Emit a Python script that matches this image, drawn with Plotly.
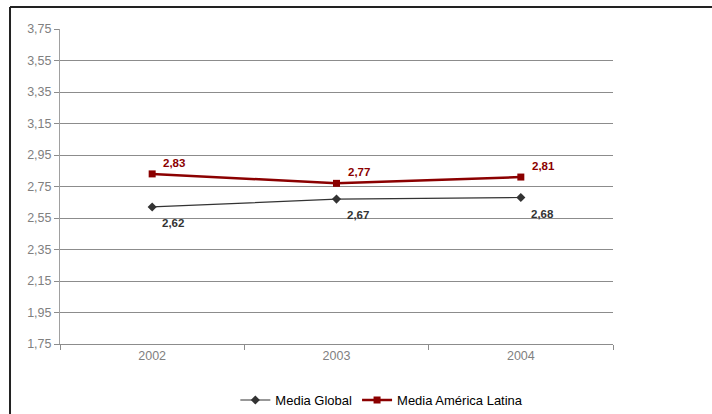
import plotly.graph_objects as go

# Data
years = ["2002", "2003", "2004"]
media_global = [2.62, 2.67, 2.68]
media_latam = [2.83, 2.77, 2.81]
series_names = ["Media Global", "Media América Latina"]
y_ticks = [1.75, 1.95, 2.15, 2.35, 2.55, 2.75, 2.95, 3.15, 3.35, 3.55, 3.75]

FONT = "Liberation Sans, Arial, sans-serif"
RED = "#8B0000"
DARK = "#333333"
GRID = "#8c8c8c"

pos = list(range(len(years)))
boundaries = [p - 0.5 for p in pos] + [pos[-1] + 0.5]

fig = go.Figure()
fig.add_trace(go.Scatter(
    x=pos, y=media_global, name=series_names[0], mode="lines+markers",
    line=dict(color=DARK, width=1.2),
    marker=dict(symbol="diamond", size=7, color=DARK),
))
fig.add_trace(go.Scatter(
    x=pos, y=media_latam, name=series_names[1], mode="lines+markers",
    line=dict(color=RED, width=2.5),
    marker=dict(symbol="square", size=7, color=RED),
))
# invisible trace carrying the category-boundary tick marks
fig.add_trace(go.Scatter(x=boundaries, y=[None] * len(boundaries), xaxis="x2",
                         showlegend=False, hoverinfo="skip", mode="markers"))

# Value labels: red above-right, dark below-right
for p, v in zip(pos, media_latam):
    fig.add_annotation(x=p, y=v, text=f"{v:.2f}".replace(".", ","),
                       showarrow=False, xanchor="left", yanchor="middle",
                       xshift=9, yshift=11,
                       font=dict(family=FONT, size=11.5, color=RED, weight="bold"))
for p, v in zip(pos, media_global):
    fig.add_annotation(x=p, y=v, text=f"{v:.2f}".replace(".", ","),
                       showarrow=False, xanchor="left", yanchor="middle",
                       xshift=8, yshift=-16,
                       font=dict(family=FONT, size=11.5, color=DARK, weight="bold"))

# Outer frame (left and top edges)
fig.add_shape(type="line", xref="paper", yref="paper",
              x0=-0.0904, x1=-0.0904, y0=1.0698, y1=-0.25,
              line=dict(color="#222222", width=2))
fig.add_shape(type="line", xref="paper", yref="paper",
              x0=-0.0904, x1=1.2, y0=1.0698, y1=1.0698,
              line=dict(color="#222222", width=2))

fig.update_layout(
    width=712, height=414,
    margin=dict(l=60, r=99, t=29, b=70, autoexpand=False),
    paper_bgcolor="white", plot_bgcolor="white",
    separators=",.",
    font=dict(family=FONT, size=12, color="#808080"),
    showlegend=True,
    legend=dict(orientation="h", x=0.582, y=-0.178, xanchor="center", yanchor="middle",
                font=dict(family=FONT, size=13, color="#000000"),
                itemwidth=30, tracegroupgap=0),
    xaxis=dict(
        range=[-0.5, len(years) - 0.5], tickvals=pos, ticktext=years,
        showgrid=False, showline=True, linecolor=GRID, linewidth=1,
        ticks="", zeroline=False,
        tickfont=dict(family=FONT, size=12.5, color="#808080"),
        fixedrange=True,
    ),
    xaxis2=dict(
        overlaying="x", matches="x", range=[-0.5, len(years) - 0.5],
        tickvals=boundaries, showticklabels=False, showgrid=False,
        ticks="outside", ticklen=5, tickcolor=GRID, side="bottom",
        zeroline=False, showline=False, fixedrange=True,
    ),
    yaxis=dict(
        range=[1.75, 3.75], tickvals=y_ticks, tickformat=".2f",
        showgrid=True, gridcolor=GRID, gridwidth=1,
        showline=True, linecolor="#a0a0a0", linewidth=1,
        ticks="outside", ticklen=5, tickcolor=GRID,
        tickfont=dict(family=FONT, size=12.5, color="#808080"),
        zeroline=False, fixedrange=True,
    ),
)

fig.write_html("out.html")
